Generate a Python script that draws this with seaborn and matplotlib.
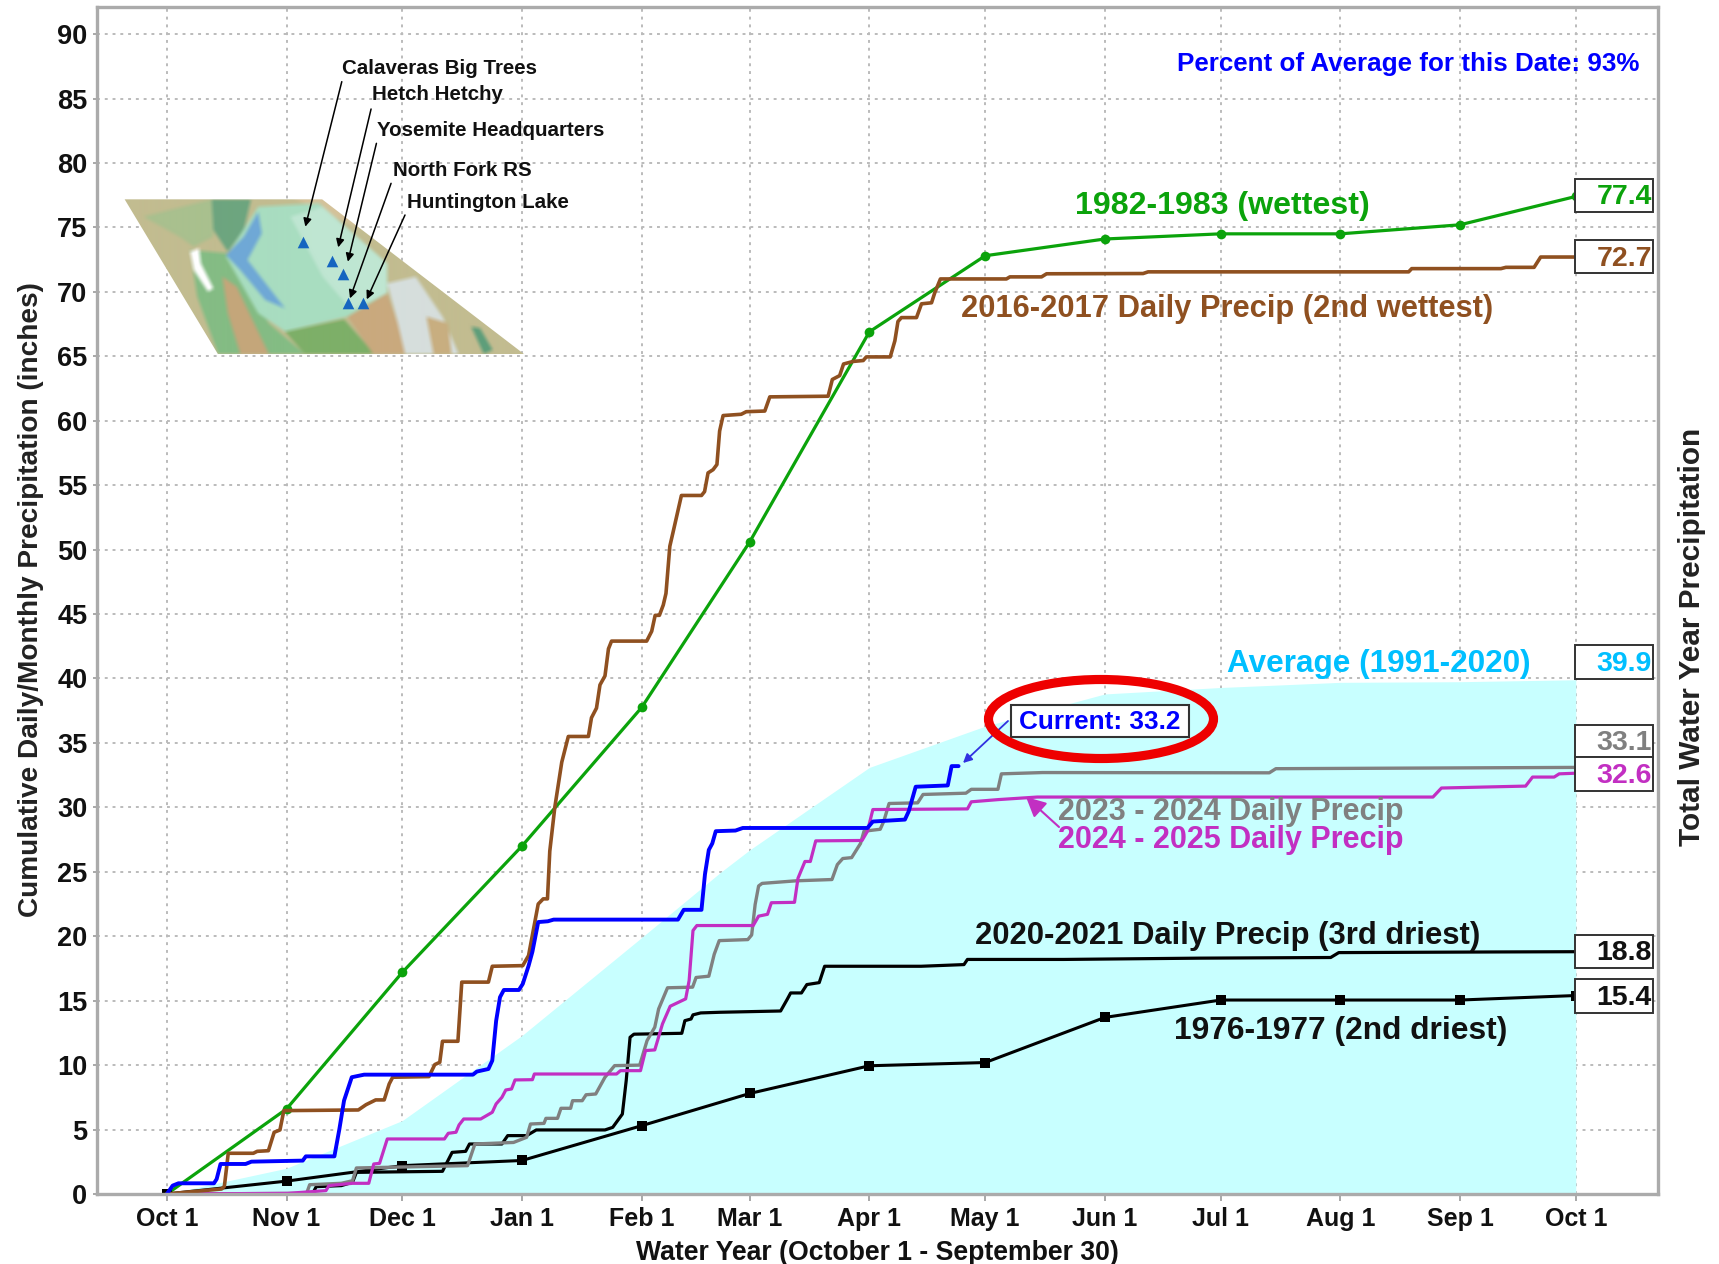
import matplotlib
matplotlib.use("Agg")
import matplotlib.pyplot as plt
from matplotlib.patches import Ellipse, Polygon, Rectangle
import numpy as np
import seaborn as sns

# --- data, x = days since Oct 1, y = inches ---
month_days = [0, 31, 61, 92, 123, 151, 182, 212, 243, 273, 304, 335, 365]
month_labels = ["Oct 1", "Nov 1", "Dec 1", "Jan 1", "Feb 1", "Mar 1", "Apr 1",
                "May 1", "Jun 1", "Jul 1", "Aug 1", "Sep 1", "Oct 1"]
y_ticks = list(range(0, 95, 5))

avg_days = [0, 31, 61, 92, 123, 143.6, 151, 182, 212, 243, 273, 304, 335, 365]
avg_vals = [0, 2.0, 5.7, 12.3, 19.9, 25.0, 26.7, 33.1, 36.3, 38.8, 39.3, 39.7, 39.75, 39.9]

wet83_vals = [0, 6.6, 17.2, 27.0, 37.75, 50.6, 66.9, 72.8, 74.1, 74.5, 74.5, 75.2, 77.4]
dry77_vals = [0, 1.0, 2.2, 2.6, 5.3, 7.8, 9.95, 10.2, 13.7, 15.05, 15.05, 15.05, 15.4]

wet17_days = [0, 14.2, 14.9, 15.9, 22.4, 23.4, 26.3, 27.8, 29.3, 30.3, 49.6, 51.6, 54.1, 56.3,
              57.6, 58.5, 67.9, 69.4, 70.7, 71.4, 75.4, 76.4, 83.3, 84.3, 92.2, 93.7, 96.2, 97.5,
              98.6, 99.2, 100.5, 102.3, 104, 109.2, 110, 111.3, 112.2, 113.5, 114.4, 115.2, 124.3,
              125.6, 126.5, 127.6, 128.6, 129.3, 130.3, 131.1, 133.3, 138.5, 139.3, 140.2, 141.5,
              142.5, 143.2, 144.1, 148.8, 150.1, 154.9, 156.2, 171.3, 172.4, 174.3, 175.3, 177.8,
              180.4, 181.2, 187.4, 188.6, 189.4, 190.3, 194.2, 195.5, 198.1, 198.9, 200.4, 217.5,
              218.4, 226.6, 227.9, 252.9, 254.2, 321.7, 322.5, 345.6, 346.9, 354.2, 355.9, 365]
wet17_vals = [0, 0.39, 0.6, 3.16, 3.16, 3.31, 3.36, 4.79, 4.97, 6.47, 6.52, 6.93, 7.3, 7.3,
              8.54, 9.06, 9.11, 10.04, 10.22, 11.85, 11.85, 16.44, 16.44, 17.67, 17.72, 18.5, 22.5, 22.9,
              22.9, 26.6, 30, 33.5, 35.5, 35.5, 36.95, 37.7, 39.5, 40.2, 42.3, 42.9, 42.9,
              43.66, 44.9, 44.9, 45.7, 46.6, 50.26, 51.3, 54.2, 54.2, 54.5, 55.95, 56.2,
              56.6, 59.2, 60.4, 60.5, 60.7, 60.75, 61.85, 61.9, 63.2, 63.5, 64.4, 64.6,
              64.67, 64.95, 64.95, 66.2, 67.7, 68, 68, 69.07, 69.15, 69.9, 71.0, 71,
              71.16, 71.16, 71.4, 71.42, 71.55, 71.55, 71.8, 71.8, 71.9, 71.9, 72.7, 72.7]

dry21_days = [0, 37.7, 38.7, 45.2, 48.1, 49.1, 71.4, 73.9, 77.4, 78.4, 86.8, 88.3, 93.2, 95.7, 113.5,
              115.5, 118, 119, 120, 121, 133.4, 134.2, 135.8, 136.3, 138.3, 143.2, 159, 160.7, 161.6,
              164.4, 165.8, 169, 170.4, 195.4, 206.5, 207.4, 232.4, 267.6, 301.5, 303.6, 343.9, 365]
dry21_vals = [0, 0, 0.57, 0.65, 0.91, 1.68, 1.76, 3.23, 3.31, 3.88, 3.88, 4.53, 4.53, 4.97, 4.97,
              5.17, 6.2, 8.8, 12.16, 12.4, 12.47, 13.45, 13.58, 13.9, 14.05, 14.1, 14.2, 15.1, 15.6,
              15.6, 16.25, 16.4, 17.67, 17.67, 17.8, 18.2, 18.2, 18.3, 18.35, 18.73, 18.78, 18.8]

yr24_days = [0, 36.2, 37, 45.2, 48.1, 49.1, 77.9, 79.8, 89.8, 93.2, 94.2, 97.7, 98.2, 101.2, 102.1,
             104.6, 105.1, 107.6, 108.6, 111.1, 113.5, 116, 122.5, 124.4, 126.4, 127.4, 129.7, 136.2,
             137.1, 140.4, 141.8, 143.1, 150.5, 151.5, 152.4, 153.3, 154.2, 163, 172.3, 173.7, 175.1,
             177.4, 179.7, 180.6, 184.8, 185.7, 187.1, 194.5, 195.9, 207, 208.4, 215.3, 216.2, 226.9,
             285.6, 287.3, 365]
yr24_vals = [0, 0.05, 0.72, 0.83, 1.03, 2.02, 2.2, 3.88, 4.0, 4.4, 5.43, 5.48, 5.87, 5.87, 6.65,
             6.65, 7.24, 7.24, 7.7, 7.76, 9.06, 9.96, 10.0, 11.9, 12.94, 14.36, 16.0, 16.05,
             16.8, 16.9, 18.6, 19.66, 19.74, 20.1, 22.46, 23.9, 24.1, 24.3, 24.4, 25.56, 26.03,
             26.1, 27.2, 28.15, 28.3, 28.9, 30.3, 30.35, 31, 31.1, 31.4, 31.4, 32.6, 32.7,
             32.68, 33.0, 33.1]

yr25_days = [0, 31.3, 41.2, 42, 48.1, 52.3, 53.6, 55.1, 57.1, 71.9, 72.9, 74.9, 75.7, 76.9, 81.3,
             84.3, 85.3, 86.8, 87.8, 89.3, 90.2, 94.7, 95.2, 116.5, 117.5, 122.7, 124, 126.4, 128.4,
             130.4, 134.4, 135.3, 136.3, 137.3, 151.9, 153.3, 155.6, 156.6, 162.6, 163.5, 165.3,
             166.7, 168.1, 180.1, 181.5, 182.9, 207.4, 208.4, 215.3, 225.5, 328, 330.2, 352, 353.8,
             359.4, 360.7, 365]
yr25_vals = [0, 0.05, 0.26, 0.65, 0.83, 0.83, 2.33, 2.38, 4.27, 4.27, 4.71, 4.79, 5.36, 5.82, 5.82,
             6.34, 6.99, 7.5, 8.07, 8.15, 8.85, 8.87, 9.31, 9.31, 9.57, 9.57, 11.13, 11.18, 13.2,
             14.57, 15.14, 16.56, 20.44, 20.83, 20.83, 21.56, 21.7, 22.6, 22.63, 24.5, 25.8,
             25.8, 27.4, 27.43, 28.15, 29.83, 29.88, 30.43, 30.6, 30.8, 30.8, 31.5, 31.65, 32.35,
             32.35, 32.6, 32.65]

now_days = [0, 1.5, 3, 12.2, 12.9, 13.9, 20.4, 21.9, 35.2, 36, 43.4, 44.7, 45.9, 47.9, 51.1, 79.3,
            80.3, 83.3, 84.3, 85.3, 86.3, 87.3, 91.2, 92.2, 93.7, 94.7, 96.2, 98.7, 100.2, 132.4,
            133.9, 138.5, 139.4, 140.4, 141.3, 142.2, 147.3, 149.2, 181.5, 182.9, 191.2, 192.2,
            194, 202.3, 203.3, 205.1]
now_vals = [0, 0.65, 0.83, 0.83, 1.16, 2.33, 2.33, 2.51, 2.59, 2.92, 2.92, 5.05, 7.25, 9.06, 9.26, 9.26,
            9.5, 9.7, 10.35, 13.43, 15.27, 15.83, 15.83, 16.3, 17.7, 18.8, 21.1, 21.16, 21.29, 21.29,
            22.05, 22.05, 24.8, 26.7, 27.2, 28.15, 28.2, 28.4, 28.4, 28.9, 29.05, 29.7,
            31.6, 31.7, 33.2, 33.2]

box_labels = ["77.4", "72.7", "39.9", "33.1", "32.6", "18.8", "15.4"]
station_names = ["Calaveras Big Trees", "Hetch Hetchy", "Yosemite Headquarters", "North Fork RS", "Huntington Lake"]

GREEN = "#0BA30B"
BROWN = "#8F5020"
GRAY = "#808080"
MAGENTA = "#C22FC2"
BLUE = "#0000FF"
SKY = "#00BFFF"

sns.set_theme(style="whitegrid")
plt.rcParams['font.family'] = ['Liberation Sans', 'DejaVu Sans']

W, H = 1719, 1264
fig = plt.figure(figsize=(W / 100, H / 100), dpi=100)

# plot box: x 97-1658, y 7-1194
ax = fig.add_axes([97 / W, 1 - 1194 / H, (1658 - 97) / W, (1194 - 7) / H])

ax.fill_between(avg_days, avg_vals, 0, color="#C8FFFF", lw=0, zorder=2)

sns.lineplot(x=month_days, y=wet83_vals, ax=ax, color=GREEN, lw=2.3, marker='o', markersize=7,
             markeredgewidth=0, estimator=None, zorder=3)
sns.lineplot(x=month_days, y=dry77_vals, ax=ax, color="black", lw=2.2, marker='s', markersize=6.5,
             markeredgewidth=0, estimator=None, zorder=3)
sns.lineplot(x=dry21_days, y=dry21_vals, ax=ax, color="black", lw=2.3, estimator=None, zorder=4)
sns.lineplot(x=yr24_days, y=yr24_vals, ax=ax, color=GRAY, lw=2.4, estimator=None, zorder=5)
sns.lineplot(x=yr25_days, y=yr25_vals, ax=ax, color=MAGENTA, lw=2.3, estimator=None, zorder=6)
sns.lineplot(x=wet17_days, y=wet17_vals, ax=ax, color=BROWN, lw=2.6, estimator=None, zorder=6)
sns.lineplot(x=now_days, y=now_vals, ax=ax, color=BLUE, lw=2.8, estimator=None, zorder=7)

ax.set_xlim(-18.1, 386.3)
ax.set_ylim(0, 92.1)
ax.set_xticks(month_days)
ax.set_xticklabels(month_labels, fontweight='bold', fontsize=18, color="#111111")
ax.set_yticks(y_ticks)
ax.set_yticklabels([str(v) for v in y_ticks], fontweight='bold', fontsize=19.5, color="#111111")
ax.set_xlabel("")
ax.set_ylabel("")
ax.tick_params(axis='x', length=5, width=1.2, color="#999999", pad=4.5, bottom=True)
ax.tick_params(axis='y', length=3, width=1.2, color="#999999", pad=4, left=True)
ax.grid(True, linestyle=(0, (1.5, 2.5)), color="#BBBBBB", lw=1.4)
ax.set_axisbelow(True)
ax.set_facecolor("white")
for s in ax.spines.values():
    s.set_color("#ABABAB")
    s.set_linewidth(2.4)
    s.set_zorder(10)

# overlay in picture pixels for the map, labels, boxes and call-outs
ov = fig.add_axes([0, 0, 1, 1], zorder=5)
ov.axis('off')
ov.patch.set_alpha(0)
renderer = fig.canvas.get_renderer()


def fit_label(x0, x1, yc, s, color, weight='bold', rotation=0):
    # letter spaced in the original, so size it by the width it takes up
    t = ov.text((x0 + x1) / 2, yc, s, color=color, ha='center', va='center', fontsize=18,
                fontweight=weight, rotation=rotation)
    bb = t.get_window_extent(renderer)
    t.set_fontsize(18 * (x1 - x0) / max(bb.width, bb.height))
    return t


# --- map inset, sketched as soft flat shapes ---
def mp(pts):
    return [(90 + x / 2.8, 30 + y / 3) for x, y in pts]


map_shapes = [
    ("#C2BC90", [(0, 400), (1400, 400), (1400, 1100), (0, 1100)]),
    ("#A9C08E", [(150, 560), (340, 508), (345, 620), (290, 650), (250, 620)]),
    ("#D4C29A", [(560, 500), (680, 500), (760, 600), (640, 540)]),
    ("#6DA57F", [(340, 508), (450, 508), (430, 600), (385, 665), (345, 600)]),
    ("#84BC84", [(280, 660), (385, 670), (500, 880), (600, 972), (358, 972), (300, 800)]),
    ("#C4A67A", [(370, 740), (410, 770), (450, 860), (500, 972), (420, 972), (385, 850)]),
    ("#A8DDC0", [(470, 530), (640, 520), (830, 700), (830, 790), (720, 860), (545, 905), (470, 850), (380, 680)]),
    ("#BFE6D2", [(560, 560), (650, 530), (830, 700), (830, 790), (730, 840), (650, 740)]),
    ("#6FA8D6", [(380, 675), (430, 620), (470, 545), (480, 610), (440, 690), (545, 835), (490, 810), (420, 720)]),
    ("#7DAF68", [(545, 905), (710, 868), (795, 972), (600, 972)]),
    ("#C9A97E", [(720, 860), (830, 790), (860, 880), (880, 972), (790, 972)]),
    ("#D6DEDC", [(830, 760), (910, 740), (985, 860), (1030, 972), (880, 972), (860, 880)]),
    ("#C8AE80", [(940, 860), (1000, 880), (1010, 972), (960, 972)]),
    ("#5E9E7A", [(1065, 890), (1090, 895), (1125, 960), (1100, 972)]),
    ("white", [(280, 665), (305, 655), (310, 700), (345, 775), (330, 785), (290, 720)]),
]
# draw the shapes small and soften them, the original map is a blurred screenshot
mx0, mx1, my0, my1 = 120, 530, 195, 360
mfig = plt.figure(figsize=((mx1 - mx0) / 100, (my1 - my0) / 100), dpi=100)
max_ = mfig.add_axes([0, 0, 1, 1])
max_.set_xlim(mx0, mx1)
max_.set_ylim(my1, my0)
max_.axis('off')
for col, pts in map_shapes:
    max_.add_patch(Polygon(mp(pts), fc=col, ec='none'))
mfig.canvas.draw()
map_img = np.asarray(mfig.canvas.buffer_rgba())[:, :, :3] / 255.0
plt.close(mfig)
kernel = np.ones(5) / 5
for axis in (0, 1):
    map_img = np.apply_along_axis(lambda c: np.convolve(np.pad(c, 2, mode='edge'), kernel, mode='valid'), axis, map_img)

outline = Polygon(mp([(97, 508), (650, 508), (1215, 972), (358, 972)]), fc='none', ec='none', transform=ov.transData)
im = ov.imshow(map_img, extent=(mx0, mx1, my1, my0), aspect='auto', zorder=1, interpolation='bilinear')
im.set_clip_path(outline)
ov.set_xlim(0, W)
ov.set_ylim(H, 0)

fit_label(1177, 1639, 64, "Percent of Average for this Date: 93%", BLUE)
fit_label(1075, 1370, 206, "1982-1983 (wettest)", GREEN)
fit_label(961, 1493, 309, "2016-2017 Daily Precip (2nd wettest)", BROWN)
fit_label(1227, 1531, 664, "Average (1991-2020)", SKY)
fit_label(1058, 1404, 812, "2023 - 2024 Daily Precip", GRAY)
fit_label(1058, 1404, 840, "2024 - 2025 Daily Precip", MAGENTA)
fit_label(975, 1480, 936, "2020-2021 Daily Precip (3rd driest)", "#111111")
fit_label(1173, 1508, 1031, "1976-1977 (2nd driest)", "#111111")
fit_label(635, 1120, 1253, "Water Year (October 1 - September 30)", "#111111")
fit_label(283, 917, 600, "Cumulative Daily/Monthly Precipitation (inches)", "#222222", rotation=90).set_x(31)
fit_label(428, 846, 637, "Total Water Year Precipitation", "#222222", rotation=90).set_x(1692)

# total boxes at the right
box_tops = [179, 240, 645, 725, 757, 935, 979]
box_bottoms = [212, 273, 679, 757, 791, 968, 1013]
box_colors = [GREEN, BROWN, SKY, GRAY, MAGENTA, "#111111", "#111111"]
for lab, top, bot, col in zip(box_labels, box_tops, box_bottoms, box_colors):
    ov.add_patch(Rectangle((1575, top), 78, bot - top, fc="white", ec="#333333", lw=1.4))
    ov.text(1652, (top + bot) / 2 + 2, lab, color=col, ha='right', va='center', fontsize=20.5, fontweight='bold')

# current value call-out
ov.add_patch(Rectangle((1011, 705), 178, 32, fc="white", ec="#333333", lw=1.5, zorder=4))
ov.text(1100, 722, "Current: 33.2", color=BLUE, ha='center', va='center', fontsize=18.8, fontweight='bold', zorder=5)
ov.annotate("", xy=(963, 763), xytext=(1008, 721),
            arrowprops=dict(arrowstyle='-|>', color="#3030E0", lw=1.3, mutation_scale=13, shrinkA=0, shrinkB=0))
ov.add_patch(Ellipse((1101, 719), 225, 79, fc='none', ec="#EE0000", lw=6.6, zorder=6))
ov.annotate("", xy=(1026, 797), xytext=(1059, 827),
            arrowprops=dict(arrowstyle='-|>', color=MAGENTA, lw=1.5, mutation_scale=30, shrinkA=0, shrinkB=0))

tri_pts = mp([(597, 637), (678, 693), (708, 732), (722, 820), (763, 820)])
ov.scatter([p[0] for p in tri_pts], [p[1] for p in tri_pts], marker='^', s=70, color="#1565C0", linewidths=0, zorder=3)

name_pos = [(342, 69), (372, 95), (377, 130), (393, 170), (407, 203)]
arrow_pts = [((705, 155), (603, 590)), ((787, 237), (695, 652)), ((802, 340), (722, 695)),
             ((843, 460), (728, 805)), ((882, 555), (775, 808))]
for name, pos, (a, b) in zip(station_names, name_pos, arrow_pts):
    ov.text(pos[0], pos[1], name, color="#111111", ha='left', va='center', fontsize=14.8, fontweight='bold', zorder=4)
    start, end = mp([a, b])
    ov.annotate("", xy=end, xytext=start, zorder=4,
                arrowprops=dict(arrowstyle='-|>', color="black", lw=1.1, mutation_scale=12, shrinkA=0, shrinkB=0))

fig.savefig("out.png", dpi=100)
